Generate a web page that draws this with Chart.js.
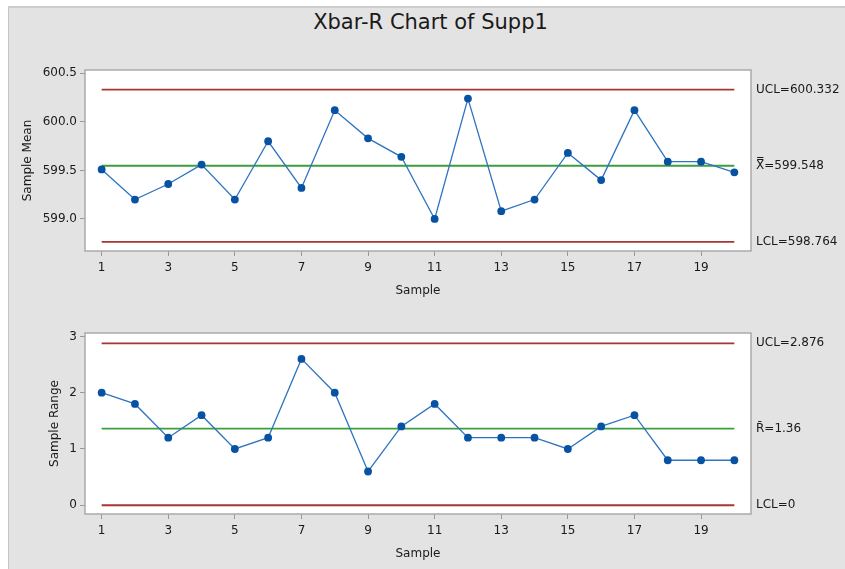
<!DOCTYPE html>
<html>
<head>
<meta charset="utf-8">
<script src="https://cdn.jsdelivr.net/npm/chart.js@4"></script>
<style>
  html, body { margin:0; padding:0; background:#ffffff; width:845px; height:569px; overflow:hidden; }
  #frame { position:absolute; left:8px; top:6px; width:837px; height:563px; background:#e3e3e3;
           border-left:1px solid #c4c4c4; border-top:2px solid #cdcdcd; box-sizing:border-box; }
  #title { position:absolute; left:0; top:8px; width:861px; text-align:center;
           font-family:"DejaVu Sans", sans-serif; font-size:21px; color:#1a1a1a; line-height:28px; }
  canvas { position:absolute; left:0; }
  #c1 { top:40px; }
  #c2 { top:305px; }
</style>
</head>
<body>
<div id="frame"></div>
<div id="title">Xbar-R Chart of Supp1</div>
<canvas id="c1" width="845" height="265"></canvas>
<canvas id="c2" width="845" height="264"></canvas>
<script>
const samples = [1,2,3,4,5,6,7,8,9,10,11,12,13,14,15,16,17,18,19,20];
const sampleMeans = [599.51,599.20,599.36,599.56,599.20,599.80,599.32,600.12,599.83,599.64,
                     599.00,600.24,599.08,599.20,599.68,599.40,600.12,599.59,599.59,599.48];
const sampleRanges = [2.0,1.8,1.2,1.6,1.0,1.2,2.6,2.0,0.6,1.4,
                      1.8,1.2,1.2,1.2,1.0,1.4,1.6,0.8,0.8,0.8];
const meanLimitValues = [600.332, 599.548, 598.764];
const meanLimitLabels = ['UCL=600.332', 'X\u033F=599.548', 'LCL=598.764'];
const rangeLimitValues = [2.876, 1.36, 0];
const rangeLimitLabels = ['UCL=2.876', 'R\u0304=1.36', 'LCL=0'];
const meanTicks = [599.0, 599.5, 600.0, 600.5];
const rangeTicks = [0, 1, 2, 3];
const sampleTicks = [1,3,5,7,9,11,13,15,17,19];

const FONT = '"DejaVu Sans", sans-serif';
const TXT = '#1a1a1a';
const limitColors = ['#a83434', '#3c9e3c', '#a83434'];

const frameLabels = {
  id: 'frameLabels',
  beforeDraw(chart) {
    const {ctx, chartArea: a} = chart;
    ctx.save();
    ctx.fillStyle = '#ffffff';
    ctx.fillRect(a.left, a.top, a.right - a.left, a.bottom - a.top);
    ctx.restore();
  },
  afterDraw(chart, args, opts) {
    const {ctx, chartArea: a} = chart;
    ctx.save();
    ctx.strokeStyle = '#aaaaaa';
    ctx.lineWidth = 1.5;
    ctx.strokeRect(a.left, a.top, a.right - a.left, a.bottom - a.top);
    ctx.fillStyle = TXT;
    ctx.font = '12px ' + FONT;
    ctx.textBaseline = 'middle';
    ctx.textAlign = 'left';
    opts.values.forEach((v, i) => {
      ctx.fillText(opts.labels[i], a.right + 5, chart.scales.y.getPixelForValue(v));
    });
    ctx.restore();
  }
};

function makeChart(id, values, limits, labels, yTicks, yMin, yMax, yTitle, yTitlePad, padTop, xHeight, xTitlePad, decimals) {
  const limitSets = limits.map((v, i) => ({
    data: [{x: samples[0], y: v}, {x: samples[samples.length - 1], y: v}],
    borderColor: limitColors[i], borderWidth: 1.8, pointRadius: 0, order: 2
  }));
  return new Chart(document.getElementById(id), {
    type: 'line',
    data: {
      datasets: [
        { data: samples.map((s, i) => ({x: s, y: values[i]})),
          borderColor: '#2f74c0', borderWidth: 1.3, pointRadius: 3.9,
          pointBackgroundColor: '#0852a3', pointBorderColor: '#0852a3', pointBorderWidth: 0, order: 0 },
        ...limitSets
      ]
    },
    options: {
      responsive: false, animation: false, events: [],
      layout: { padding: { left: 9, right: 94, top: padTop, bottom: 0 } },
      plugins: { legend: { display: false }, tooltip: { enabled: false },
                 frameLabels: { values: limits, labels: labels } },
      scales: {
        x: {
          type: 'linear', min: 0.5, max: 20.5,
          afterBuildTicks: s => { s.ticks = sampleTicks.map(v => ({value: v})); },
          afterFit: s => { s.height = xHeight; },
          grid: { drawOnChartArea: false, drawTicks: true, tickLength: 5, color: '#999999' },
          border: { display: false },
          ticks: { color: TXT, font: { family: FONT, size: 12 }, padding: 5, maxRotation: 0, autoSkip: false },
          title: { display: true, text: 'Sample', color: TXT, font: { family: FONT, size: 12 },
                   padding: { top: 0, bottom: xTitlePad } }
        },
        y: {
          type: 'linear', min: yMin, max: yMax,
          afterBuildTicks: s => { s.ticks = yTicks.map(v => ({value: v})); },
          afterFit: s => { s.width = 76; },
          grid: { drawOnChartArea: false, drawTicks: true, tickLength: 5, color: '#999999' },
          border: { display: false },
          ticks: { color: TXT, font: { family: FONT, size: 12 }, padding: 3,
                   callback: v => Number(v).toFixed(decimals) },
          title: { display: true, text: yTitle, color: TXT, font: { family: FONT, size: 12 },
                   padding: { top: yTitlePad, bottom: 0 } }
        }
      }
    },
    plugins: [frameLabels]
  });
}

makeChart('c1', sampleMeans, meanLimitValues, meanLimitLabels, meanTicks, 598.67, 600.534,
          'Sample Mean', 12, 30, 54, 7, 1);
makeChart('c2', sampleRanges, rangeLimitValues, rangeLimitLabels, rangeTicks, -0.155, 3.06,
          'Sample Range', 39, 28, 55, 8, 0);
</script>
</body>
</html>
